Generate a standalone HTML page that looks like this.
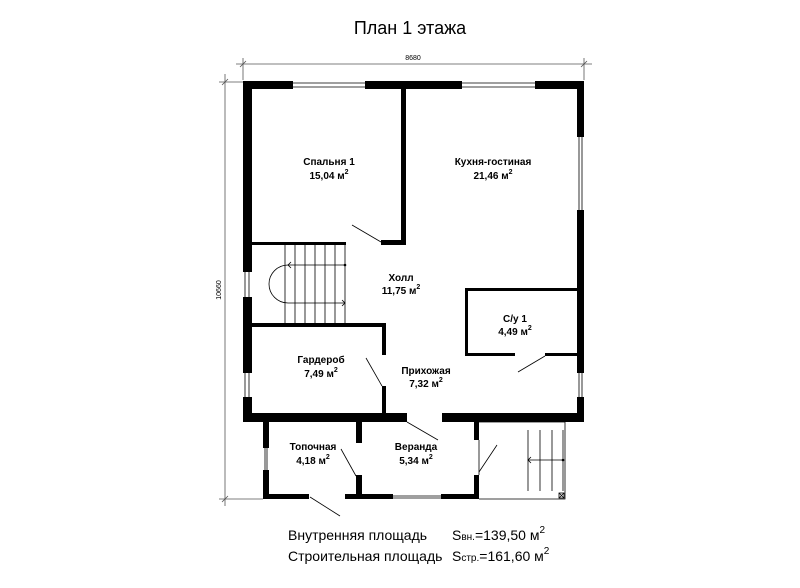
<!DOCTYPE html>
<html><head><meta charset="utf-8"><style>
html,body{margin:0;padding:0;background:#fff;}
svg{display:block;}
text{font-family:"Liberation Sans","DejaVu Sans",sans-serif;fill:#000;}
.b{font-weight:bold;font-size:10px;text-anchor:middle;}
</style></head><body>
<svg width="800" height="588" viewBox="0 0 800 588" xmlns="http://www.w3.org/2000/svg">
<text x="410" y="34" font-size="18" text-anchor="middle">План 1 этажа</text>
<!-- dimensions -->
<g stroke="#555" stroke-width="0.8" fill="none">
<line x1="236" y1="64" x2="592" y2="64"/>
<line x1="243" y1="58" x2="243" y2="80"/>
<line x1="584" y1="58" x2="584" y2="80"/>
<line x1="225" y1="74" x2="225" y2="506"/>
<line x1="219" y1="82" x2="243" y2="82"/>
<line x1="219" y1="499" x2="263" y2="499"/>
<path d="M240 67 L246 61 M581 67 L587 61 M222 85 L228 79 M222 502 L228 496"/>
</g>
<text x="413" y="60" font-size="7" text-anchor="middle">8680</text>
<text x="0" y="0" font-size="7" text-anchor="middle" transform="translate(221,290) rotate(-90)">10660</text>
<g fill="#000">
<!-- outer walls -->
<rect x="243" y="81" width="50" height="8"/>
<rect x="365" y="81" width="97" height="8"/>
<rect x="535" y="81" width="49" height="8"/>
<rect x="243" y="81" width="9" height="191"/>
<rect x="243" y="297" width="9" height="76"/>
<rect x="243" y="397" width="9" height="25"/>
<rect x="577" y="81" width="7" height="56"/>
<rect x="577" y="210" width="7" height="163"/>
<rect x="577" y="397" width="7" height="25"/>
<rect x="243" y="413" width="164" height="9"/>
<rect x="442" y="413" width="142" height="9"/>
<!-- interior -->
<rect x="401" y="89" width="5" height="156"/>
<rect x="381" y="240" width="25" height="5"/>
<rect x="252" y="242" width="94" height="3"/>
<rect x="252" y="323" width="134" height="4"/>
<rect x="382" y="323" width="4" height="32"/>
<rect x="382" y="386" width="4" height="27"/>
<rect x="465" y="288" width="112" height="3"/>
<rect x="465" y="288" width="3" height="68"/>
<rect x="465" y="353" width="50" height="3"/>
<rect x="545" y="353" width="32" height="3"/>
<!-- veranda -->
<rect x="263" y="422" width="6" height="26"/>
<rect x="263" y="470" width="6" height="29"/>
<rect x="263" y="494" width="46" height="5"/>
<rect x="345" y="494" width="48" height="5"/>
<rect x="441" y="494" width="38" height="5"/>
<rect x="356" y="422" width="6" height="21"/>
<rect x="356" y="475" width="6" height="24"/>
<rect x="474" y="422" width="5" height="18"/>
<rect x="474" y="475" width="5" height="24"/>
</g>
<g stroke="#000" stroke-width="0.8" fill="none">
<!-- windows -->
<path d="M293 83 H365 M293 87 H365 M462 83 H535 M462 87 H535"/>
<path d="M579 137 V210 M582 137 V210 M579 373 V397 M582 373 V397"/>
<path d="M245 272 V297 M249 272 V297 M245 373 V397 M249 373 V397"/>
<path d="M265 448 V470 M267 448 V470 M393 496 H441 M393 498 H441"/>
<!-- doors -->
<line x1="352" y1="225" x2="381" y2="242"/>
<line x1="366" y1="358" x2="382" y2="386"/>
<line x1="407" y1="422" x2="438" y2="440"/>
<line x1="341" y1="449" x2="356" y2="476"/>
<line x1="479" y1="472" x2="497" y2="445"/>
<line x1="545" y1="356" x2="518" y2="372"/>
<line x1="310" y1="497" x2="340" y2="516"/>
<line x1="479" y1="440" x2="479" y2="475"/>
<!-- stairs -->
<path d="M285 245 V323 M295 245 V323 M305 245 V323 M315 245 V323 M325 245 V323 M335 245 V323 M345 245 V323"/>
<path d="M288 265 H345 M288 303 H345"/>
<path d="M288 265 A19 19 0 0 0 288 303"/>
<path d="M291 262 L288 265 L291 268 M342 300 L345 303 L342 306"/>
<!-- porch -->
<path d="M479 422 H565 V499 H479"/>
<path d="M528 430 V491 M540 430 V491 M552 430 V491 M563 430 V491"/>
<path d="M528 460 H563 M531 457 L528 460 L531 463"/>
<rect x="559" y="493" width="5" height="5"/>
<path d="M559 493 L564 498 M564 493 L559 498"/>
</g>
<circle cx="345" cy="265" r="1.3" fill="#000"/>
<circle cx="563" cy="460" r="1.3" fill="#000"/>
<!-- labels -->
<text class="b" x="329" y="165">Спальня 1</text>
<text class="b" x="329" y="179">15,04 м<tspan font-size="7" dy="-5">2</tspan></text>
<text class="b" x="493" y="165">Кухня-гостиная</text>
<text class="b" x="493" y="179">21,46 м<tspan font-size="7" dy="-5">2</tspan></text>
<text class="b" x="401" y="281">Холл</text>
<text class="b" x="401" y="294">11,75 м<tspan font-size="7" dy="-5">2</tspan></text>
<text class="b" x="515" y="322">С/у 1</text>
<text class="b" x="515" y="335">4,49 м<tspan font-size="7" dy="-5">2</tspan></text>
<text class="b" x="321" y="363">Гардероб</text>
<text class="b" x="321" y="377">7,49 м<tspan font-size="7" dy="-5">2</tspan></text>
<text class="b" x="426" y="374">Прихожая</text>
<text class="b" x="426" y="387">7,32 м<tspan font-size="7" dy="-5">2</tspan></text>
<text class="b" x="313" y="450">Топочная</text>
<text class="b" x="313" y="464">4,18 м<tspan font-size="7" dy="-5">2</tspan></text>
<text class="b" x="416" y="450">Веранда</text>
<text class="b" x="416" y="464">5,34 м<tspan font-size="7" dy="-5">2</tspan></text>
<text x="288" y="540" font-size="14">Внутренняя площадь</text>
<text x="452" y="540" font-size="14">S<tspan font-size="10">вн.</tspan>=139,50 м<tspan font-size="10" dy="-7">2</tspan></text>
<text x="288" y="561" font-size="14">Строительная площадь</text>
<text x="452" y="561" font-size="14">S<tspan font-size="10">стр.</tspan>=161,60 м<tspan font-size="10" dy="-7">2</tspan></text>
</svg>
</body></html>
